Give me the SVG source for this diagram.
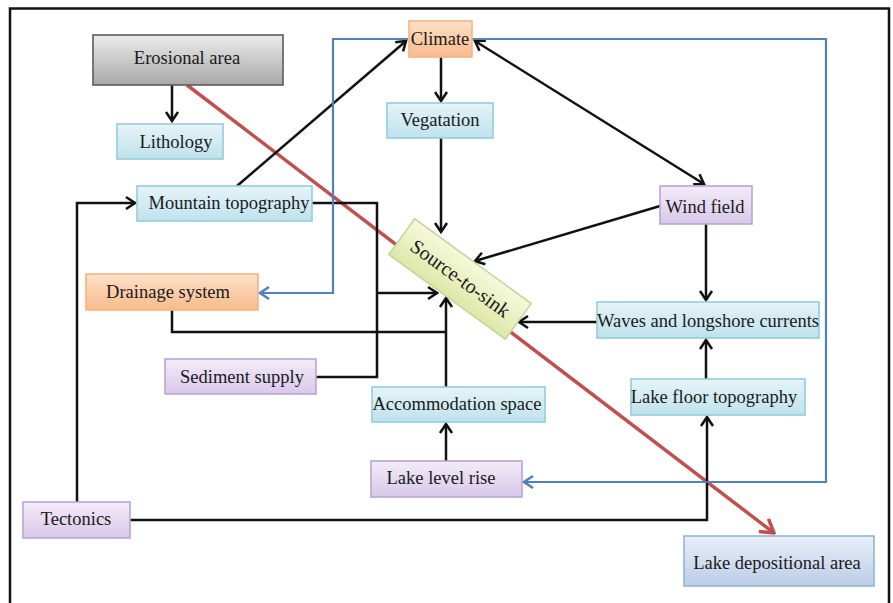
<svg xmlns="http://www.w3.org/2000/svg" width="893" height="603" viewBox="0 0 893 603">
  <defs>
    <linearGradient id="gGray" x1="0" y1="0" x2="0" y2="1">
      <stop offset="0" stop-color="#ececec"/>
      <stop offset="1" stop-color="#a8a8a8"/>
    </linearGradient>
    <linearGradient id="gBlue" x1="0" y1="0" x2="0" y2="1">
      <stop offset="0" stop-color="#e6f4f8"/>
      <stop offset="1" stop-color="#bfe2ec"/>
    </linearGradient>
    <linearGradient id="gOrange" x1="0" y1="0" x2="0" y2="1">
      <stop offset="0" stop-color="#fde0c8"/>
      <stop offset="1" stop-color="#f9bb8c"/>
    </linearGradient>
    <linearGradient id="gPurple" x1="0" y1="0" x2="0" y2="1">
      <stop offset="0" stop-color="#f3ecf8"/>
      <stop offset="1" stop-color="#d8c8ea"/>
    </linearGradient>
    <linearGradient id="gSteel" x1="0" y1="0" x2="0" y2="1">
      <stop offset="0" stop-color="#e8eef8"/>
      <stop offset="1" stop-color="#bccde8"/>
    </linearGradient>
    <linearGradient id="gLime" x1="0" y1="0" x2="0" y2="1">
      <stop offset="0" stop-color="#f6f9dc"/>
      <stop offset="1" stop-color="#dce8a8"/>
    </linearGradient>
    <marker id="arrBlack" markerUnits="userSpaceOnUse" viewBox="-12 -8 14 16" markerWidth="14" markerHeight="16" refX="0" refY="0" orient="auto-start-reverse">
      <path d="M-9,-6 L0,0 L-9,6" fill="none" stroke="#111" stroke-width="2.5"/>
    </marker>
    <marker id="arrBlue" markerUnits="userSpaceOnUse" viewBox="-12 -8 14 16" markerWidth="14" markerHeight="16" refX="0" refY="0" orient="auto">
      <path d="M-9,-6 L0,0 L-9,6" fill="none" stroke="#4f81bd" stroke-width="2.5"/>
    </marker>
    <marker id="arrRed" markerUnits="userSpaceOnUse" viewBox="-16 -10 18 20" markerWidth="18" markerHeight="20" refX="0" refY="0" orient="auto">
      <path d="M-13,-8 L0,0 L-13,8" fill="none" stroke="#c0504d" stroke-width="3.5"/>
    </marker>
    <style>
      .frame { fill: none; stroke: #111; stroke-width: 2.5; }
      .box { stroke-width: 1.6; }
      .gray { fill: url(#gGray); stroke: #5a5a5a; }
      .blue { fill: url(#gBlue); stroke: #93cddd; }
      .orange { fill: url(#gOrange); stroke: #f6b482; }
      .purple { fill: url(#gPurple); stroke: #b9a5d2; }
      .steel { fill: url(#gSteel); stroke: #95b3d7; }
      .lime { fill: url(#gLime); stroke: #c3d69b; }
      text { font-family: "Liberation Serif", "Times New Roman", serif; font-size: 18.5px; fill: #1a1a1a; text-anchor: middle; }
      .big { font-size: 20px; }
      .k { fill: none; stroke: #111; stroke-width: 2.5; }
      .kArrow { marker-end: url(#arrBlack); }
      .b { fill: none; stroke: #4f81bd; stroke-width: 2.2; marker-end: url(#arrBlue); }
      .r { fill: none; stroke: #c0504d; stroke-width: 3.5; marker-end: url(#arrRed); }
    </style>
  </defs>

  <!-- outer frame (open at the bottom edge) -->
  <path class="frame" d="M10,604 L10,8.5 L889,8.5 L889,604"/>

  <g id="connectors">
    <!-- erosional area to lake depositional area -->
    <path class="r" d="M187,85 L774,533"/>
    <!-- erosional area to lithology -->
    <path class="k kArrow" d="M172,85 L172,121"/>
    <!-- mountain topography to climate -->
    <path class="k kArrow" d="M237,186 L406,41"/>
    <!-- climate to wind field, both ways -->
    <path class="k" d="M475,41 L704,184" marker-start="url(#arrBlack)" marker-end="url(#arrBlack)"/>
    <!-- climate to vegatation -->
    <path class="k kArrow" d="M441,57 L441,101"/>
    <!-- vegatation to source-to-sink -->
    <path class="k kArrow" d="M441,138 L441,232"/>
    <!-- wind field to source-to-sink -->
    <path class="k kArrow" d="M660,206 L475,261"/>
    <!-- wind field to waves -->
    <path class="k kArrow" d="M706,224 L706,300"/>
    <!-- waves to source-to-sink -->
    <path class="k kArrow" d="M597,322 L519,322"/>
    <!-- lake floor topography to waves -->
    <path class="k kArrow" d="M706,379 L706,340"/>
    <!-- tectonics to lake floor topography -->
    <path class="k kArrow" d="M130,520 L707,520 L707,417"/>
    <!-- tectonics to mountain topography -->
    <path class="k kArrow" d="M77,502 L77,203 L135,203"/>
    <!-- mountain topography and sediment supply to source-to-sink -->
    <path class="k" d="M312,203 L377,203 L377,377 L316,377"/>
    <path class="k kArrow" d="M377,293 L437,293"/>
    <!-- drainage system to source-to-sink -->
    <path class="k" d="M172,310 L172,332 L446,332"/>
    <!-- accommodation space to source-to-sink -->
    <path class="k kArrow" d="M446,387 L446,298"/>
    <!-- lake level rise to accommodation space -->
    <path class="k kArrow" d="M446,461 L446,424"/>
    <!-- climate to drainage system -->
    <path class="b" d="M408,39 L333,39 L333,293 L260,293"/>
    <!-- climate to lake level rise -->
    <path class="b" d="M472,39 L826,39 L826,482 L524,482"/>
  </g>

  <g id="erosional-area">
    <rect class="box gray" x="93" y="35" width="190" height="50"/>
    <text x="187" y="64">Erosional area</text>
  </g>
  <g id="lithology">
    <rect class="box blue" x="117" y="124" width="106" height="35"/>
    <text x="176" y="148">Lithology</text>
  </g>
  <g id="mountain-topography">
    <rect class="box blue" x="137" y="186" width="175" height="35"/>
    <text x="229" y="209">Mountain topography</text>
  </g>
  <g id="drainage-system">
    <rect class="box orange" x="86" y="274" width="172" height="36"/>
    <text x="168" y="298">Drainage system</text>
  </g>
  <g id="climate">
    <rect class="box orange" x="409" y="21" width="63" height="36"/>
    <text x="440" y="45">Climate</text>
  </g>
  <g id="vegatation">
    <rect class="box blue" x="387" y="103" width="106" height="35"/>
    <text x="440" y="126">Vegatation</text>
  </g>
  <g id="wind-field">
    <rect class="box purple" x="660" y="186" width="92" height="38"/>
    <text x="705" y="213">Wind field</text>
  </g>
  <g id="source-to-sink">
    <g transform="translate(460,279) rotate(36)">
      <rect class="box lime" x="-72" y="-22" width="144" height="44"/>
      <text class="big" x="0" y="6">Source-to-sink</text>
    </g>
  </g>
  <g id="waves-and-longshore-currents">
    <rect class="box blue" x="597" y="302" width="222" height="36"/>
    <text x="708" y="327">Waves and longshore currents</text>
  </g>
  <g id="lake-floor-topography">
    <rect class="box blue" x="631" y="379" width="174" height="36"/>
    <text x="714" y="403">Lake floor topography</text>
  </g>
  <g id="accommodation-space">
    <rect class="box blue" x="372" y="387" width="173" height="35"/>
    <text x="457" y="410">Accommodation space</text>
  </g>
  <g id="lake-level-rise">
    <rect class="box purple" x="371" y="461" width="151" height="36"/>
    <text x="441" y="484">Lake level rise</text>
  </g>
  <g id="sediment-supply">
    <rect class="box purple" x="165" y="359" width="151" height="35"/>
    <text x="242" y="383">Sediment supply</text>
  </g>
  <g id="tectonics">
    <rect class="box purple" x="23" y="502" width="107" height="36"/>
    <text x="76" y="525">Tectonics</text>
  </g>
  <g id="lake-depositional-area">
    <rect class="box steel" x="684" y="536" width="190" height="50"/>
    <text x="777" y="569">Lake depositional area</text>
  </g>
</svg>
